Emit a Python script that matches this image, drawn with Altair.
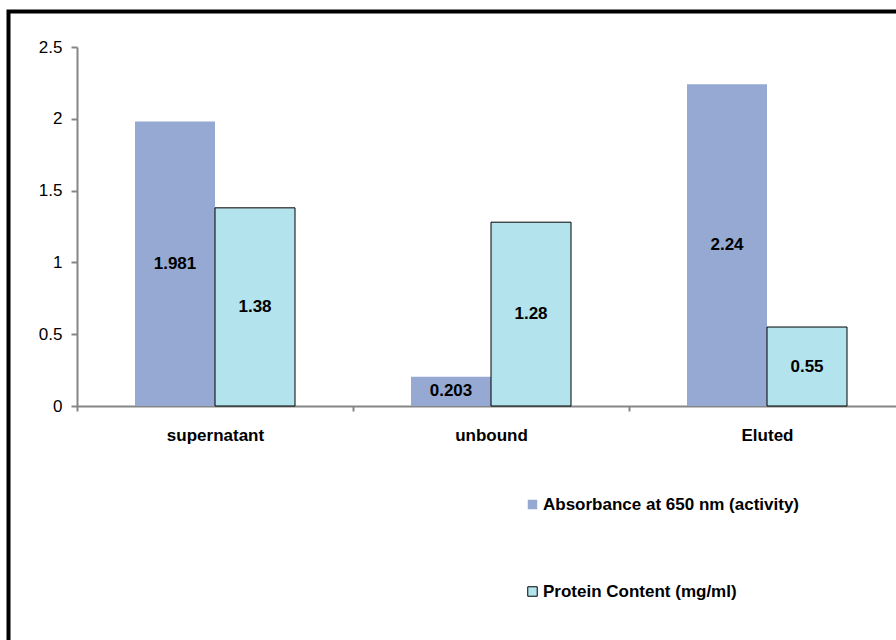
import altair as alt
import pandas as pd

# Sample fractions and the two measured quantities
categories = ["supernatant", "unbound", "Eluted"]
series_names = ["Absorbance at 650 nm (activity)", "Protein Content (mg/ml)"]
absorbance = [1.981, 0.203, 2.24]
protein = [1.38, 1.28, 0.55]
y_ticks = [0, 0.5, 1, 1.5, 2, 2.5]

rows = []
for cat, a, p in zip(categories, absorbance, protein):
    rows.append({"fraction": cat, "series": series_names[0], "value": a, "label": str(a)})
    rows.append({"fraction": cat, "series": series_names[1], "value": p, "label": str(p)})
df = pd.DataFrame(rows)

BLUE = "#95A9D2"
AQUA = "#B3E3EC"
FONT = "Liberation Sans"

x_enc = alt.X(
    "fraction:N",
    sort=categories,
    title=None,
    scale=alt.Scale(range=[0, 828], paddingInner=0, paddingOuter=0),
    axis=alt.Axis(
        tickBand="extent",
        labelAngle=0,
        labelFont=FONT,
        labelFontSize=17,
        labelFontWeight="bold",
        labelColor="black",
        labelPadding=16,
        tickSize=5,
        tickColor="#868686",
        tickWidth=2,
        domainColor="#868686",
        domainWidth=2,
    ),
)
xoff_enc = alt.XOffset(
    "series:N",
    sort=series_names,
    scale=alt.Scale(domain=series_names, paddingInner=0, paddingOuter=0.725),
)

base = alt.Chart(df)

bars = base.mark_bar(strokeWidth=1).encode(
    x=x_enc,
    xOffset=xoff_enc,
    y=alt.Y(
        "value:Q",
        title=None,
        scale=alt.Scale(domain=[0, 2.5], nice=False),
        axis=alt.Axis(
            values=y_ticks,
            labelExpr="datum.value + ''",
            grid=False,
            labelFont=FONT,
            labelFontSize=17,
            labelColor="black",
            labelPadding=9,
            tickSize=6,
            tickColor="#868686",
            tickWidth=2,
            domainColor="#868686",
            domainWidth=2,
        ),
    ),
    color=alt.Color(
        "series:N",
        scale=alt.Scale(domain=series_names, range=[BLUE, AQUA]),
        legend=alt.Legend(
            title=None,
            orient="none",
            legendX=447,
            legendY=449,
            direction="vertical",
            symbolType="square",
            symbolSize=90,
            symbolStrokeWidth=1,
            labelFont=FONT,
            labelFontSize=17,
            labelFontWeight="bold",
            labelColor="black",
            labelOffset=2,
            rowPadding=69,
            labelLimit=400,
        ),
    ),
    stroke=alt.Stroke(
        "series:N",
        scale=alt.Scale(domain=series_names, range=["rgba(0,0,0,0)", "black"]),
        legend=None,
    ),
)

labels = base.transform_calculate(mid="datum.value / 2").mark_text(
    font=FONT, fontSize=17, fontWeight="bold", color="black", baseline="middle"
).encode(
    x=alt.X("fraction:N", sort=categories),
    xOffset=alt.XOffset("series:N", sort=series_names),
    y=alt.Y("mid:Q"),
    text="label:N",
)

# outer frame around the whole figure
frame = alt.Chart(pd.DataFrame({"f": [0]})).mark_rect(
    fill=None, stroke="black", strokeWidth=4
).encode(
    x=alt.value(-68.5),
    x2=alt.value(860),
    y=alt.value(-35.5),
    y2=alt.value(620),
)

chart = (
    alt.layer(bars, labels, frame)
    .properties(
        width=819,
        height=359,
        autosize=alt.AutoSizeParams(type="none"),
        padding={"left": 77, "top": 47, "right": 0, "bottom": 234},
        background="white",
    )
    .configure_view(stroke=None)
)

chart.save("out.html", embed_options={"renderer": "svg", "actions": False})
